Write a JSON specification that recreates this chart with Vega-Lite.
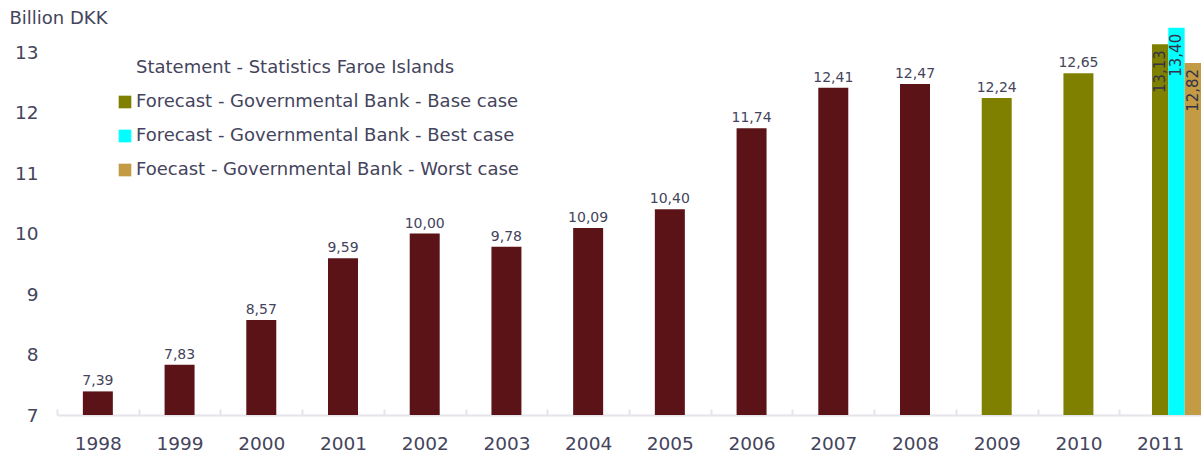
{
  "$schema": "https://vega.github.io/schema/vega-lite/v6.json",
  "autosize": "none",
  "width": 1144,
  "height": 414,
  "padding": {"left": 57, "top": 1, "right": 0, "bottom": 39},
  "background": "white",
  "config": {
    "font": "DejaVu Sans",
    "view": {"stroke": null},
    "axis": {"labelColor": "#44445c", "titleColor": "#44445c"}
  },
  "datasets": {
    "main": [
      {"year": "1998", "series": "Statement - Statistics Faroe Islands", "value": 7.39, "label": "7,39"},
      {"year": "1999", "series": "Statement - Statistics Faroe Islands", "value": 7.83, "label": "7,83"},
      {"year": "2000", "series": "Statement - Statistics Faroe Islands", "value": 8.57, "label": "8,57"},
      {"year": "2001", "series": "Statement - Statistics Faroe Islands", "value": 9.59, "label": "9,59"},
      {"year": "2002", "series": "Statement - Statistics Faroe Islands", "value": 10.00, "label": "10,00"},
      {"year": "2003", "series": "Statement - Statistics Faroe Islands", "value": 9.78, "label": "9,78"},
      {"year": "2004", "series": "Statement - Statistics Faroe Islands", "value": 10.09, "label": "10,09"},
      {"year": "2005", "series": "Statement - Statistics Faroe Islands", "value": 10.40, "label": "10,40"},
      {"year": "2006", "series": "Statement - Statistics Faroe Islands", "value": 11.74, "label": "11,74"},
      {"year": "2007", "series": "Statement - Statistics Faroe Islands", "value": 12.41, "label": "12,41"},
      {"year": "2008", "series": "Statement - Statistics Faroe Islands", "value": 12.47, "label": "12,47"},
      {"year": "2009", "series": "Forecast - Governmental Bank - Base case", "value": 12.24, "label": "12,24"},
      {"year": "2010", "series": "Forecast - Governmental Bank - Base case", "value": 12.65, "label": "12,65"}
    ],
    "y2011": [
      {"year": "2011", "series": "Forecast - Governmental Bank - Base case", "value": 13.13, "label": "13,13"},
      {"year": "2011", "series": "Forecast - Governmental Bank - Best case", "value": 13.40, "label": "13,40"},
      {"year": "2011", "series": "Foecast - Governmental Bank - Worst case", "value": 12.82, "label": "12,82"}
    ]
  },
  "encoding": {
    "x": {
      "field": "year", "type": "nominal",
      "scale": {"domain": ["1998","1999","2000","2001","2002","2003","2004","2005","2006","2007","2008","2009","2010","2011"], "paddingInner": 0, "paddingOuter": 0},
      "axis": {
        "title": null, "labelAngle": 0, "labelFontSize": 18.5, "labelPadding": 25,
        "domainColor": "#e4e4ea", "domainWidth": 2, "tickColor": "#e4e4ea", "tickWidth": 2,
        "tickSize": -6, "tickBand": "extent"
      }
    },
    "y": {
      "field": "value", "type": "quantitative",
      "scale": {"domain": [7, 13.843], "nice": false, "zero": false, "clamp": true},
      "axis": {
        "values": [7, 8, 9, 10, 11, 12, 13], "grid": false, "domain": false, "ticks": false,
        "labelFontSize": 18.5, "labelPadding": 19,
        "title": "Billion DKK", "titleAngle": 0, "titleAlign": "left", "titleBaseline": "middle",
        "titleX": -48, "titleY": 17, "titleFontSize": 18, "titleFontWeight": "normal"
      }
    }
  },
  "layer": [
    {
      "data": {"name": "main"},
      "mark": {"type": "bar", "width": {"band": 0.367}},
      "encoding": {
        "color": {
          "field": "series", "type": "nominal",
          "scale": {
            "domain": ["Statement - Statistics Faroe Islands", "Forecast - Governmental Bank - Base case", "Forecast - Governmental Bank - Best case", "Foecast - Governmental Bank - Worst case"],
            "range": ["#5c1318", "#808000", "#00ffff", "#c29b44"]
          },
          "legend": {
            "title": null, "orient": "none", "legendX": 59, "legendY": 58, "padding": 0,
            "symbolType": "square", "symbolSize": 160, "symbolStrokeWidth": 0,
            "labelFontSize": 18, "labelColor": "#44445c", "labelOffset": 2, "rowPadding": 16,
            "labelLimit": 600,
            "encode": {"symbols": {"update": {"fillOpacity": {"signal": "datum.value === 'Statement - Statistics Faroe Islands' ? 0 : 1"}}}}
          }
        }
      }
    },
    {
      "data": {"name": "y2011"},
      "mark": {"type": "bar"},
      "encoding": {
        "xOffset": {
          "field": "series", "type": "nominal",
          "scale": {"domain": ["Forecast - Governmental Bank - Base case", "Forecast - Governmental Bank - Best case", "Foecast - Governmental Bank - Worst case"], "paddingInner": 0, "paddingOuter": 1.22, "align": 1}
        },
        "color": {"field": "series", "type": "nominal"}
      }
    },
    {
      "data": {"name": "main"},
      "mark": {"type": "text", "baseline": "bottom", "dy": -3, "fontSize": 14, "color": "#44445c"},
      "encoding": {"text": {"field": "label"}}
    },
    {
      "data": {"name": "y2011"},
      "mark": {"type": "text", "angle": 270, "align": "right", "baseline": "middle", "dx": -6, "fontSize": 15, "color": "#33334a"},
      "encoding": {
        "xOffset": {"field": "series", "type": "nominal"},
        "text": {"field": "label"}
      }
    },
    {
      "data": {"values": [{}]},
      "mark": {"type": "rule", "color": "#333333", "strokeWidth": 2},
      "encoding": {"y": {"datum": 13.843}}
    }
  ]
}
